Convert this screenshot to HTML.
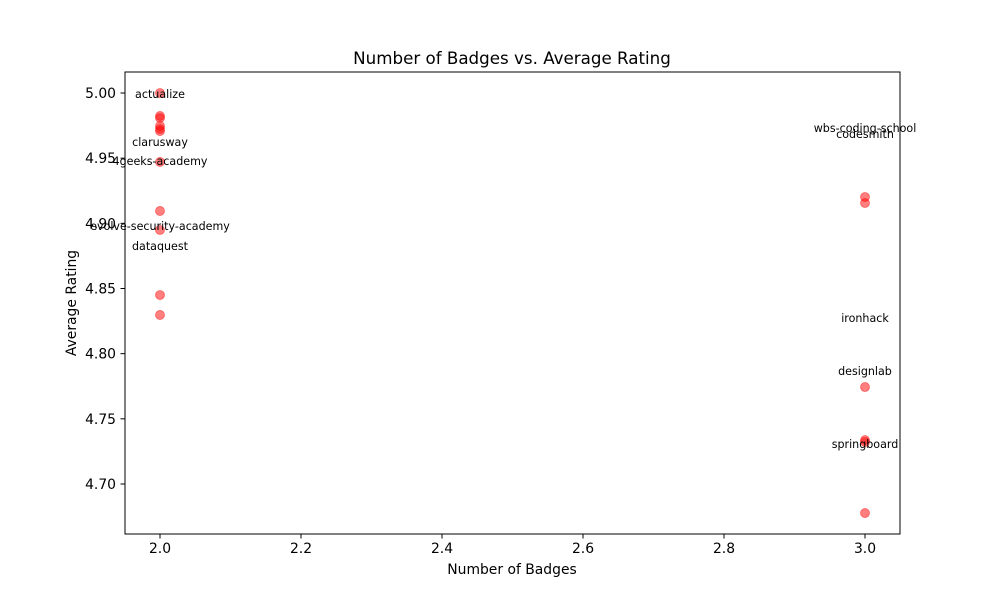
<!DOCTYPE html>
<html><head><meta charset="utf-8"><style>
body{margin:0;background:#fff;font-family:"Liberation Sans","DejaVu Sans",sans-serif}
svg text{font-family:"DejaVu Sans","Liberation Sans",sans-serif}
</style></head><body>
<svg id="chart" width="1000" height="600">
<rect width="1000" height="600" fill="#fff"/>
<g id="marks"></g>
<g id="labels"></g>
<rect x="125" y="72" width="775" height="462" fill="none" stroke="#000" stroke-width="1"/>
<g id="axes"></g>
<text x="512" y="64" text-anchor="middle" font-size="16.7">Number of Badges vs. Average Rating</text>
<text x="512" y="574" text-anchor="middle" font-size="13.9">Number of Badges</text>
<text x="76" y="303" text-anchor="middle" font-size="13.9" transform="rotate(-90 76 303)">Average Rating</text>
</svg>
<script>
const badges=[2,2,2,2,2,2,2,2,2,2,2,3,3,3,3,3,3];
const ratings=[5.000,4.9824,4.9808,4.9747,4.9724,4.9708,4.9471,4.9095,4.8949,4.8450,4.8297,4.9202,4.9156,4.7744,4.7337,4.7322,4.6777];
const labelNames=["actualize","clarusway","4geeks-academy","evolve-security-academy","dataquest","wbs-coding-school","codesmith","ironhack","designlab","springboard"];
const labelX=[2,2,2,2,2,3,3,3,3,3];
const labelY=[4.9992,4.9624,4.9478,4.8980,4.8826,4.9731,4.9685,4.8274,4.7867,4.7307];
const xTicks=[2.0,2.2,2.4,2.6,2.8,3.0];
const yTicks=[4.70,4.75,4.80,4.85,4.90,4.95,5.00];
const NS="http://www.w3.org/2000/svg";
const X=v=>160+(v-2)*705;
const Y=v=>93+(5-v)*1303.3;
function mk(t,a,p){const e=document.createElementNS(NS,t);for(const k in a)e.setAttribute(k,a[k]);p.appendChild(e);return e;}
const marks=document.getElementById('marks'),labels=document.getElementById('labels'),axes=document.getElementById('axes');
badges.forEach((b,i)=>{
 const c=mk('circle',{cx:X(b),cy:Y(ratings[i]),r:4.5,fill:'red','fill-opacity':0.5,stroke:'red','stroke-opacity':0.5,'stroke-width':0.8},marks);
 
 
});
labelNames.forEach((n,i)=>{
 const t=mk('text',{x:X(labelX[i]),y:Y(labelY[i])+4,'text-anchor':'middle','font-size':11.1},labels);
 t.textContent=n;
 
 
});
xTicks.forEach(v=>{
 mk('line',{x1:X(v),x2:X(v),y1:534,y2:538.5,stroke:'#000'},axes);
 const t=mk('text',{x:X(v),y:553,'text-anchor':'middle','font-size':13.9},axes);
 t.textContent=v.toFixed(1);
 
 
});
yTicks.forEach(v=>{
 mk('line',{x1:120.5,x2:125,y1:Y(v),y2:Y(v),stroke:'#000'},axes);
 const t=mk('text',{x:116,y:Y(v)+5,'text-anchor':'end','font-size':13.9},axes);
 t.textContent=v.toFixed(2);
 
 
});
</script>
</body></html>
